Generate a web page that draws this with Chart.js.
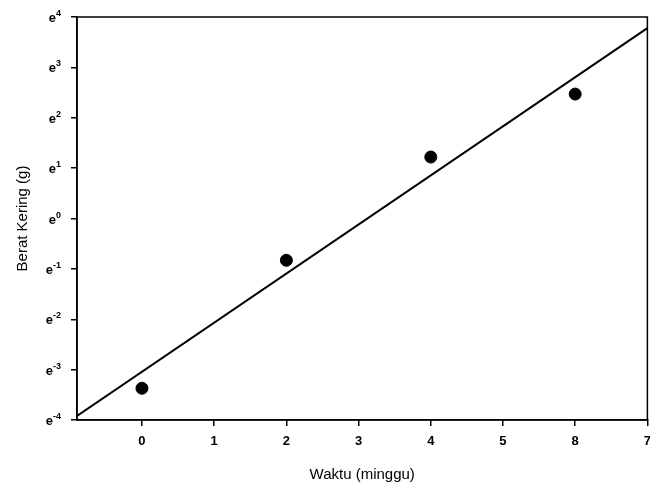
<!DOCTYPE html>
<html>
<head>
<meta charset="utf-8">
<script src="https://cdn.jsdelivr.net/npm/chart.js@4.4.1/dist/chart.umd.min.js"></script>
<style>
  html, body { margin: 0; padding: 0; background: #fff; overflow: hidden; }
  /* a bit wider than the window so the last x label is cut off like the scan */
  #wrap { width: 659px; height: 488px; position: relative; }
</style>
</head>
<body>
<div id="wrap"><canvas id="chart"></canvas></div>
<script>
// Data (berat kering in grams, log-e axis)
const weeks = [0, 2, 4, 6];
const dryWeight = [Math.exp(-3.37), Math.exp(-0.83), Math.exp(1.22), Math.exp(2.47)];

// Regression line end points
const fitWeeks = [-0.9, 7];
const fitWeight = [Math.exp(-3.92), Math.exp(3.78)];

// Tick values and labels
const xTicks = [0, 1, 2, 3, 4, 5, 6, 7];
const xTickLabels = ['0', '1', '2', '3', '4', '5', '8', '7'];
const yExponents = [-4, -3, -2, -1, 0, 1, 2, 3, 4];
const yTickBase = 'e';
const yTickPowers = ['-4', '-3', '-2', '-1', '0', '1', '2', '3', '4'];

const FONT = '"Liberation Sans", Arial, sans-serif';

// Frame round the plot area + y labels written as e with a raised power
const frame = {
    id: 'frame',
    afterDraw(chart) {
        const a = chart.chartArea;
        const ctx = chart.ctx;
        ctx.save();
        ctx.strokeStyle = '#000';
        ctx.lineWidth = 1.5;
        ctx.strokeRect(a.left, a.top, a.right - a.left, a.bottom - a.top);

        const y = chart.scales.y;
        ctx.fillStyle = '#000';
        ctx.textBaseline = 'alphabetic';
        ctx.textAlign = 'left';
        yExponents.forEach((n, i) => {
            const py = y.getPixelForValue(Math.exp(n));
            ctx.font = 'bold 9px ' + FONT;
            const pw = ctx.measureText(yTickPowers[i]).width;
            ctx.font = 'bold 13px ' + FONT;
            const bw = ctx.measureText(yTickBase).width;
            const right = a.left - 16;
            ctx.fillText(yTickBase, right - pw - bw, py + 5);
            ctx.font = 'bold 9px ' + FONT;
            ctx.fillText(yTickPowers[i], right - pw, py - 1);
        });
        ctx.restore();
    }
};

new Chart(document.getElementById('chart'), {
    type: 'scatter',
    data: {
        datasets: [
            {
                type: 'line',
                data: fitWeeks.map((x, i) => ({ x: x, y: fitWeight[i] })),
                borderColor: '#000',
                borderWidth: 2,
                pointRadius: 0,
                fill: false
            },
            {
                data: weeks.map((x, i) => ({ x: x, y: dryWeight[i] })),
                backgroundColor: '#000',
                borderColor: '#000',
                pointRadius: 6,
                pointHoverRadius: 6
            }
        ]
    },
    options: {
        responsive: true,
        maintainAspectRatio: false,
        animation: false,
        plugins: { legend: { display: false }, tooltip: { enabled: false } },
        layout: { padding: { left: 0, right: 0, top: 17, bottom: 0 } },
        scales: {
            x: {
                type: 'linear',
                min: -0.9,
                max: 7,
                afterBuildTicks: s => { s.ticks = xTicks.map(v => ({ value: v })); },
                afterFit: s => { s.height = 68; },
                grid: { drawOnChartArea: false, drawTicks: true, tickLength: 6, color: '#000', lineWidth: 1.5 },
                border: { color: '#000', width: 1.5 },
                ticks: {
                    autoSkip: false,
                    maxRotation: 0,
                    padding: 8,
                    color: '#000',
                    font: { family: FONT, size: 13, weight: 'bold' },
                    callback: (v, i) => xTickLabels[i]
                },
                title: {
                    display: true,
                    text: 'Waktu (minggu)',
                    color: '#000',
                    font: { family: FONT, size: 15 },
                    padding: { top: 3 }
                }
            },
            y: {
                type: 'logarithmic',
                min: Math.exp(-4),
                max: Math.exp(4),
                afterBuildTicks: s => { s.ticks = yExponents.map(n => ({ value: Math.exp(n) })); },
                afterFit: s => { s.width = 77; },
                grid: { drawOnChartArea: false, drawTicks: true, tickLength: 6, color: '#000', lineWidth: 1.5 },
                border: { color: '#000', width: 1.5 },
                ticks: {
                    autoSkip: false,
                    color: 'rgba(0,0,0,0)',
                    font: { family: FONT, size: 12 },
                    callback: () => ''
                },
                title: {
                    display: true,
                    text: 'Berat Kering (g)',
                    color: '#000',
                    font: { family: FONT, size: 15 },
                    padding: { top: 14, bottom: 4 }
                }
            }
        }
    },
    plugins: [frame]
});
</script>
</body>
</html>
